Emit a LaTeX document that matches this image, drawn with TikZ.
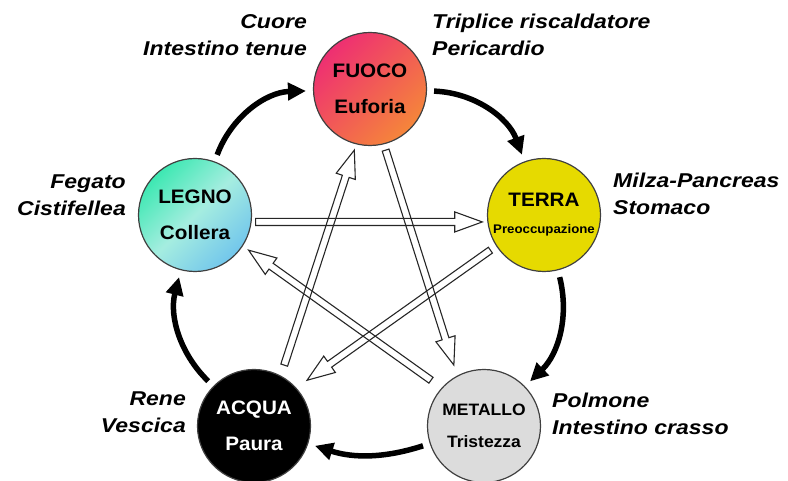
\documentclass[tikz,border=0pt]{standalone}
\usepackage{fontspec}
\setmainfont{Liberation Sans}[FakeStretch=1.06]
\newfontfamily\organfont{Liberation Sans}[FakeStretch=1.15]
\usetikzlibrary{arrows.meta}
\usetikzlibrary{calc}
\usetikzlibrary{shapes.arrows}

\definecolor{fuocoA}{HTML}{EE2F72}
\definecolor{fuocoB}{HTML}{F5863A}
\definecolor{legnoA}{HTML}{3DE8B2}
\definecolor{legnoB}{HTML}{A5EDE0}
\definecolor{legnoC}{HTML}{72C6EC}
\definecolor{terraY}{HTML}{E6DA00}
\definecolor{metalloG}{HTML}{DCDCDC}
\definecolor{rim}{HTML}{404040}

\tikzset{
  element/.style={circle, draw=rim, line width=1.2pt, minimum size=113pt, inner sep=0pt,
    align=center, font=\bfseries\fontsize{19.5}{22}\selectfont},
  organs/.style={inner sep=0pt, font=\organfont\bfseries\itshape\fontsize{20}{27}\selectfont},
  gen/.style={line width=5.5pt, -{Triangle[length=18pt,width=17pt]}, shorten <=7pt, shorten >=7pt},
  hollowarrow/.style={single arrow, draw=black!85, line width=1.1pt, inner xsep=0pt, inner ysep=3pt,
    outer sep=0pt, single arrow head extend=6.5pt, single arrow tip angle=40}
}

% control arrow between two border points: start, end, start gap, end gap
\newcommand\hollow[4]{%
  \path ($(#1)!#3!(#2)$) coordinate (hs) ($(#2)!#4!(#1)$) coordinate (he);
  \path let \p1=($(he)-(hs)$), \n1={veclen(\x1,\y1)}, \n2={atan2(\y1,\x1)} in
    (he) node[hollowarrow, minimum height=\n1, rotate=\n2, anchor=tip] {};
}

\begin{document}
\begin{tikzpicture}[x=1pt, y=1pt]
    \useasboundingbox (0,0) rectangle (788,481);

    % Elements

    \node[element, top color=fuocoA, bottom color=fuocoB, shading angle=45] (fuoco) at (370,392) {FUOCO\\[14.5pt]Euforia}; %
    \node[element, fill=terraY] (terra) at (544,266) {TERRA\\[5pt]{\fontsize{12.5}{14}\selectfont Preoccupazione}}; %
    \node[element, fill=metalloG, font=\bfseries\fontsize{16.5}{20}\selectfont] (metallo) at (484,55) {METALLO\\[12pt]Tristezza}; %
    \node[element, fill=black, text=white] (acqua) at (254,55) {ACQUA\\[14.5pt]Paura}; %
    \node[element, top color=legnoA, bottom color=legnoC, middle color=legnoB, shading angle=45] (legno) at (195,266) {LEGNO\\[14pt]Collera}; %

    % Organs

    \node[organs, anchor=north east, align=right] (cuore)   at (307,467) {Cuore\\Intestino tenue}; %
    \node[organs, anchor=north west, align=left]  (triplice) at (432,467) {Triplice riscaldatore\\Pericardio}; %
    \node[organs, anchor=north west, align=left]  (milza)   at (613,308) {Milza-Pancreas\\Stomaco}; %
    \node[organs, anchor=north west, align=left]  (polmone) at (552,88)  {Polmone\\Intestino crasso}; %
    \node[organs, anchor=north east, align=right] (rene)    at (186,89)  {Rene\\Vescica}; %
    \node[organs, anchor=north east, align=right] (fegato)  at (126,306) {Fegato\\Cistifellea}; %

    % Generating cycle

    \draw[gen] (legno)   to[bend left=34] (fuoco);
    \draw[gen] (fuoco)   to[bend left=34] (terra);
    \draw[gen] (terra)   to[bend left=30] (metallo);
    \draw[gen] (metallo) to[bend left=18] (acqua);
    \draw[gen] (acqua)   to[bend left=30] (legno);

    % Control cycle

    \hollow{legno.-7}{terra.187}{4pt}{5pt}
    \hollow{fuoco.-76}{metallo.118}{6pt}{11pt}
    \hollow{acqua.62}{fuoco.-104}{11pt}{6pt}
    \hollow{terra.213}{acqua.42}{7pt}{13pt}
    \hollow{metallo.138}{legno.-33}{13pt}{7pt}

\end{tikzpicture}
\end{document}
